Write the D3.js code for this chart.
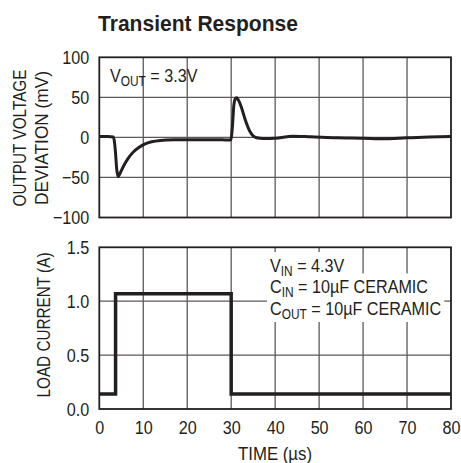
<!DOCTYPE html>
<html><head><meta charset="utf-8">
<script src="https://cdn.jsdelivr.net/npm/d3@7"></script>
<style>
body{margin:0;background:#fff;}
text{font-family:"Liberation Sans","Arial",sans-serif;fill:#231f20;}
</style></head>
<body><svg id="c" width="461" height="463"></svg>
<script>
// ---- data ----
const timeTicks = [0,10,20,30,40,50,60,70,80];
const voltTicks = [-100,-50,0,50,100];
const currTicks = [0,0.5,1.0,1.5];
const vTime = [0,2,3.2,3.5,3.7,3.95,4.3,4.7,5.5,6.6,7.8,8.9,10.3,11.9,14,17,20,25,28,29.6,29.9,30.15,30.3,30.6,30.9,31.2,31.6,32.3,33.1,34.3,35.8,37.3,40,44,48,54,60,64.5,70,75,80];
const vDev  = [1,1,0.5,-8,-20,-39,-49,-45,-36,-26,-18,-13,-8.5,-5.5,-3.8,-3,-2.8,-2.8,-3,-3.3,-3,5,15,40,48,49.5,47,38,23.7,7,-0.5,-1.3,-1,1.5,0.8,-0.5,-1,-1.7,-0.5,0.5,1.2];
const iTime = [0,3.7,30,80];
const iLoad = [0.14,1.07,0.14,0.14];

const K = 0.85; // horizontal condensation for the narrow typeface look
const svg = d3.select("#c");
const x = d3.scaleLinear().domain([0,80]).range([99.3,451]);
const yV = d3.scaleLinear().domain([-100,100]).range([217.5,57.3]);
const yI = d3.scaleLinear().domain([0,1.5]).range([409,247.3]);
const ink = "#231f20", grid = "#5a5a5a";

function condense(sel){
  sel.each(function(){
    const t = d3.select(this);
    const x0 = +t.attr("x") || 0;
    const prev = t.attr("transform") || "";
    t.attr("transform", `${prev} translate(${x0},0) scale(${K},1) translate(${-x0},0)`);
  });
}

function panel(y, ticks, fmt){
  const g = svg.append("g");
  g.selectAll(".vg").data(timeTicks.slice(1,-1)).join("line")
    .attr("x1",d=>x(d)).attr("x2",d=>x(d)).attr("y1",y.range()[1]).attr("y2",y.range()[0])
    .attr("stroke",grid).attr("stroke-width",1.3);
  g.selectAll(".hg").data(ticks.slice(1,-1)).join("line")
    .attr("x1",x.range()[0]).attr("x2",x.range()[1]).attr("y1",d=>y(d)).attr("y2",d=>y(d))
    .attr("stroke",grid).attr("stroke-width",1.3);
  const ax = svg.append("g").attr("transform",`translate(${x.range()[0]},0)`)
    .call(d3.axisLeft(y).tickValues(ticks).tickSize(0).tickPadding(0).tickFormat(fmt));
  ax.select(".domain").remove();
  ax.attr("font-family",null).attr("font-size",null);
  ax.selectAll("text").attr("font-size",19).attr("fill",ink).attr("x",0)
    .attr("transform","translate(-10,0)");
  condense(ax.selectAll("text"));
  return g;
}
function frame(y){
  svg.append("rect").attr("x",x.range()[0]).attr("y",y.range()[1])
    .attr("width",x.range()[1]-x.range()[0]).attr("height",y.range()[0]-y.range()[1])
    .attr("fill","none").attr("stroke",ink).attr("stroke-width",1.8);
}

// title
svg.append("text").attr("x",98).attr("y",31).attr("font-size",22).attr("font-weight","bold")
  .attr("textLength",200).attr("lengthAdjust","spacingAndGlyphs")
  .text("Transient Response");

// top panel
panel(yV, voltTicks, d=>d<0?"\u2212"+Math.abs(d):d);
const t1 = svg.append("text").attr("x",110).attr("y",82).attr("font-size",19);
t1.append("tspan").text("V");
t1.append("tspan").attr("font-size",14).attr("dy",4).text("OUT");
t1.append("tspan").attr("dy",-4).text(" = 3.3V");
condense(t1);
svg.append("path").datum(vTime.map((t,i)=>[t,vDev[i]]))
  .attr("d",d3.line().x(d=>x(d[0])).y(d=>yV(d[1])).curve(d3.curveMonotoneX))
  .attr("fill","none").attr("stroke",ink).attr("stroke-width",3).attr("stroke-linejoin","round");
frame(yV);

// bottom panel
panel(yI, currTicks, d3.format(".1f"));
const lines = [["V","IN"," = 4.3V"],["C","IN"," = 10\u00b5F CERAMIC"],["C","OUT"," = 10\u00b5F CERAMIC"]];
const ann = svg.append("g");
lines.forEach((l,i)=>{
  const t = ann.append("text").attr("x",270).attr("y",272+i*21.5).attr("font-size",19);
  t.append("tspan").text(l[0]);
  t.append("tspan").attr("font-size",14).attr("dy",4).text(l[1]);
  t.append("tspan").attr("dy",-4).text(l[2]);
  const b = t.node().getBBox();
  const w = b.width*K;
  ann.insert("rect","text").attr("x",b.x-3).attr("y",b.y-3).attr("width",w+6).attr("height",b.height+3).attr("fill","#fff");
  condense(t);
});
svg.append("path").datum(iTime.map((t,i)=>[t,iLoad[i]]))
  .attr("d",d3.line().x(d=>x(d[0])).y(d=>yI(d[1])).curve(d3.curveStepAfter))
  .attr("fill","none").attr("stroke",ink).attr("stroke-width",3.5);
frame(yI);

// x axis
const xa = svg.append("g").attr("transform",`translate(0,${yI.range()[0]})`)
  .call(d3.axisBottom(x).tickValues(timeTicks).tickSize(0).tickPadding(12));
xa.select(".domain").remove();
xa.attr("font-family",null).attr("font-size",null);
xa.selectAll("text").attr("font-size",19).attr("fill",ink);
condense(xa.selectAll("text"));
svg.append("text").attr("x",275).attr("y",460).attr("text-anchor","middle").attr("font-size",19)
  .attr("textLength",74).attr("lengthAdjust","spacingAndGlyphs").text("TIME (\u00b5s)");

// y labels
svg.append("text").attr("transform","translate(26,138) rotate(-90)").attr("text-anchor","middle").attr("font-size",19)
  .attr("textLength",137).attr("lengthAdjust","spacingAndGlyphs").text("OUTPUT VOLTAGE");
svg.append("text").attr("transform","translate(48,138) rotate(-90)").attr("text-anchor","middle").attr("font-size",19)
  .attr("textLength",134).attr("lengthAdjust","spacingAndGlyphs").text("DEVIATION (mV)");
svg.append("text").attr("transform","translate(50,325) rotate(-90)").attr("text-anchor","middle").attr("font-size",19)
  .attr("textLength",145).attr("lengthAdjust","spacingAndGlyphs").text("LOAD CURRENT (A)");
</script></body></html>
